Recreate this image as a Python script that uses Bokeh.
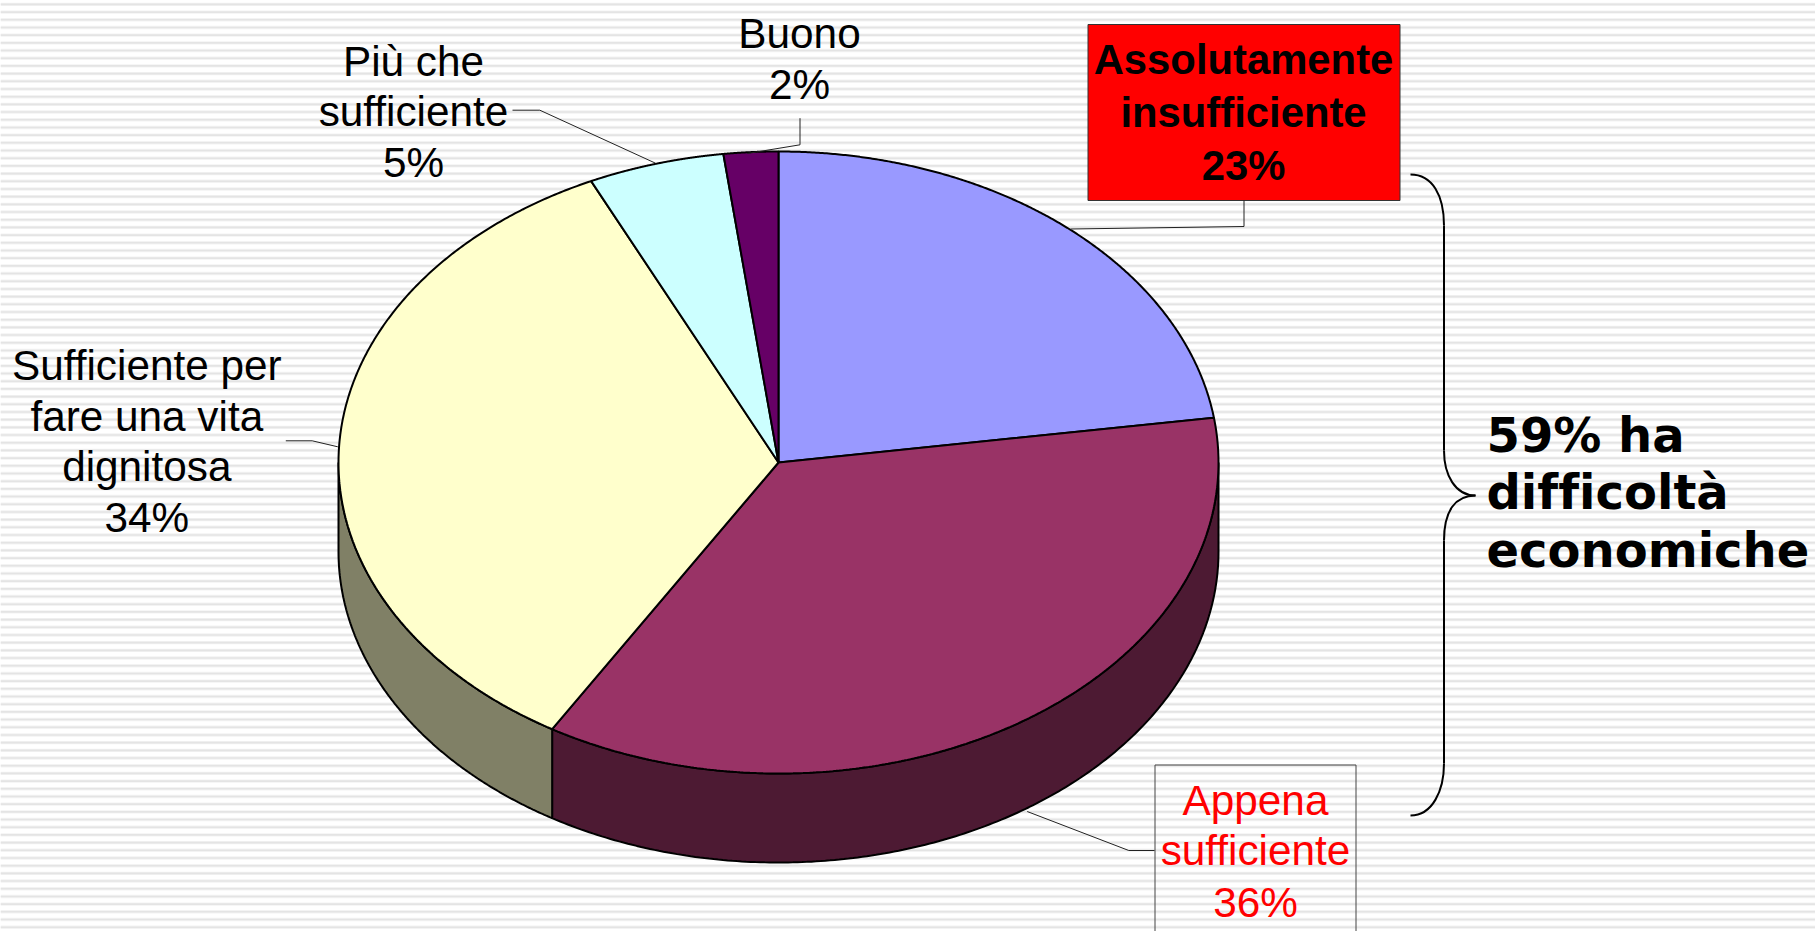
import numpy as np
from bokeh.plotting import figure
from bokeh.embed import file_html
from bokeh.resources import INLINE
from bokeh.core.properties import value

# ---- data ----
categories = ["Assolutamente insufficiente", "Appena sufficiente",
              "Sufficiente per fare una vita dignitosa", "Più che sufficiente", "Buono"]
shares = [22.7, 35.9, 34.4, 5.0, 2.0]
percent_labels = ["23%", "36%", "34%", "5%", "2%"]
top_colors = ["#9999ff", "#993366", "#ffffcc", "#ccffff", "#660066"]
side_colors = ["#4d4d80", "#4d1a33", "#808066", "#668080", "#330033"]

# ---- layout (pixels of the 1815x931 page) ----
W, H = 1815, 931
CX, CY, RX, RY, DEPTH = 778, 462, 440, 311, 89
SANS = value("Liberation Sans")
VERD = value("DejaVu Sans")
FS = "42.3px"

p = figure(width=W, height=H, x_range=(0, W), y_range=(H, 0),
           output_backend="svg", toolbar_location=None, min_border=0,
           background_fill_color="#ffffff", border_fill_color="#ffffff",
           outline_line_color=None)
p.styles = {"font-variant-ligatures": "none"}
p.xaxis.visible = False
p.yaxis.visible = False
p.grid.visible = False

# background stripes
ys = np.arange(3.9, H + 8, 7.69)
p.segment(x0=0, x1=W, y0=ys, y1=ys, line_color="#f3f3f3", line_width=3.4)
p.segment(x0=0, x1=W, y0=ys, y1=ys, line_color="#e4e4e4", line_width=1.6)


def rim(t):
    return CX + RX * np.sin(t), CY - RY * np.cos(t)


edges = 2 * np.pi * np.cumsum([0] + shares) / sum(shares)

# side wall of the disc (only the front half shows)
for a, b, c in zip(edges[:-1], edges[1:], side_colors):
    lo, hi = max(a, np.pi / 2), min(b, 3 * np.pi / 2)
    if lo < hi:
        t = np.linspace(lo, hi, 200)
        x, y = rim(t)
        xs = np.concatenate([x, x[::-1]])
        ys_ = np.concatenate([y, y[::-1] + DEPTH])
        p.patch(xs, ys_, fill_color=c, line_color="black", line_width=2)

# top of the disc
for a, b, c in zip(edges[:-1], edges[1:], top_colors):
    t = np.linspace(a, b, 300)
    x, y = rim(t)
    p.patch(np.r_[CX, x], np.r_[CY, y], fill_color=c, line_color="black", line_width=2)

# label boxes
p.quad(left=[1087.5], right=[1399.5], top=[24], bottom=[200],
       fill_color="#ff0000", line_color="#333333", line_width=1)
p.multi_line(xs=[[1154.5, 1154.5, 1355.5, 1355.5]], ys=[[H + 5, 764.5, 764.5, H + 5]],
             line_color="#444444", line_width=1)

# leader lines
leaders = [
    ([1243.5, 1243.5, 1070], [200, 226, 228.5]),
    ([1154, 1128.3, 1026.7], [850, 850, 811]),
    ([285.3, 311.7, 337.3], [440.3, 440.3, 446.3]),
    ([512, 539.3, 655], [109.7, 109.7, 162.7]),
    ([799.5, 799.5, 746.7], [117.7, 144.3, 153]),
]
p.multi_line(xs=[l[0] for l in leaders], ys=[l[1] for l in leaders],
             line_color="#222222", line_width=1)


def lines(x, baselines, texts, color="black", style="normal", font=SANS, size=FS,
          align="center", dy=-13.5):
    p.text(x=[x] * len(texts), y=baselines, text=texts, text_color=color,
           text_font=font, text_font_size=size, text_font_style=style,
           text_align=align, text_baseline="alphabetic", y_offset=dy)


lines(1243, [72.7, 125, 178.7], ["Assolutamente", "insufficiente", percent_labels[0]],
      style="bold", size="41.8px")
lines(1255, [813.3, 863.3, 915], ["Appena", "sufficiente", percent_labels[1]], color="#ff0000")
lines(146.3, [378.3, 429, 479.3, 530.7],
      ["Sufficiente per", "fare una vita", "dignitosa", percent_labels[2]])
lines(413, [74, 124, 175], ["Più che", "sufficiente", percent_labels[3]])
lines(799, [46.7, 97.7], ["Buono", percent_labels[4]])
lines(1486, [451, 508, 566], ["59% ha", "difficoltà", "economiche"],
      style="bold", font=VERD, size="48px", align="left", dy=-17)

# brace
bx, tip = 1443.5, 1475
p.bezier(x0=[1410, bx, bx, tip, bx, bx], y0=[174, 225, 450, 495, 540, 763],
         x1=[bx, bx, tip, bx, bx, 1410], y1=[225, 450, 495, 540, 763, 815],
         cx0=[1432, bx, bx, 1455, bx, bx], cy0=[174, 300, 475, 495, 600, 790],
         cx1=[bx, bx, 1455, bx, bx, 1432], cy1=[195, 380, 495, 510, 700, 815],
         line_color="black", line_width=2)

open("out.html", "w").write(file_html(p, INLINE))
